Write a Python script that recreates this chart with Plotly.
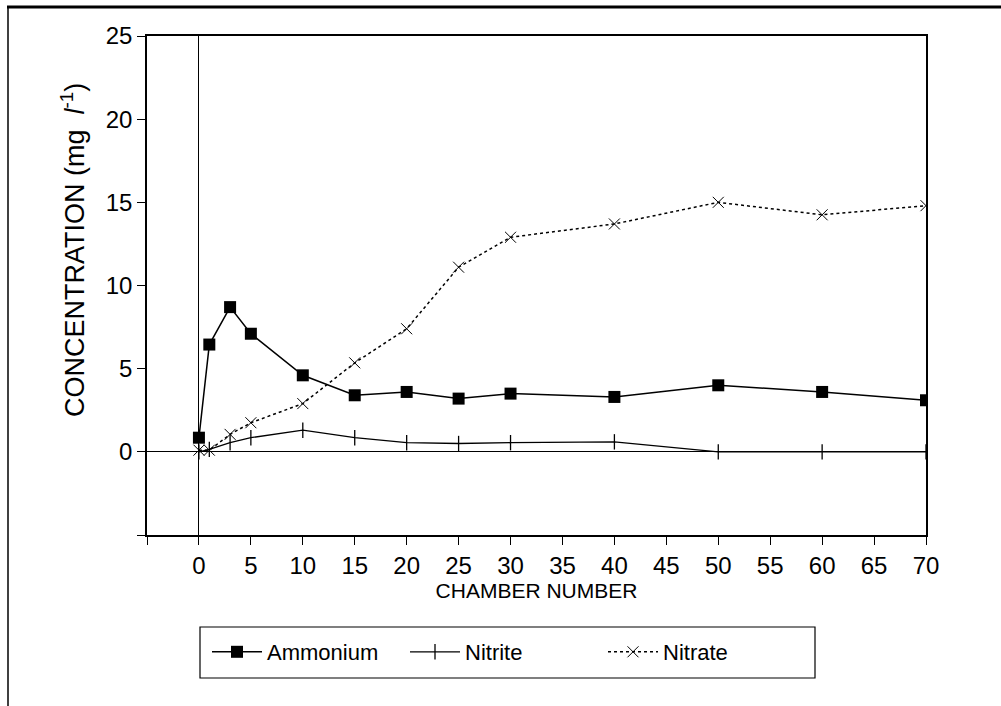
import plotly.graph_objects as go

# Sampling positions along the chamber series
chamber = [0, 1, 3, 5, 10, 15, 20, 25, 30, 40, 50, 60, 70]

# Measured concentrations (mg l-1)
ammonium = [0.85, 6.45, 8.7, 7.1, 4.6, 3.4, 3.6, 3.2, 3.5, 3.3, 4.0, 3.6, 3.1]
nitrite = [0.0, 0.15, 0.55, 0.85, 1.3, 0.85, 0.55, 0.5, 0.55, 0.6, 0.0, 0.0, 0.0]
nitrate = [0.1, 0.1, 1.05, 1.75, 2.9, 5.35, 7.4, 11.1, 12.9, 13.7, 15.0, 14.25, 14.8]

x_ticks = list(range(0, 75, 5))
y_ticks = list(range(0, 30, 5))
# unlabelled ticks at the lower ends of both axes
x_extra_ticks = [-5]
y_extra_ticks = [-5]

FONT = "Liberation Sans, Arial, Helvetica, sans-serif"

fig = go.Figure()

fig.add_trace(go.Scatter(
    x=chamber, y=ammonium, name="Ammonium", mode="lines+markers",
    line=dict(color="black", width=1.5),
    marker=dict(symbol="square", size=12, color="black"),
))
fig.add_trace(go.Scatter(
    x=chamber, y=nitrite, name="Nitrite", mode="lines+markers",
    line=dict(color="black", width=1.3),
    marker=dict(symbol="line-ns-open", size=11, color="black",
                line=dict(color="black", width=1.3)),
))
fig.add_trace(go.Scatter(
    x=chamber, y=nitrate, name="Nitrate", mode="lines+markers",
    line=dict(color="black", width=1.5, dash="dot"),
    marker=dict(symbol="x-thin-open", size=11, color="black",
                line=dict(color="black", width=1)),
))

# paper-coordinate helpers for the decorative frame, legend box and titles
L, R, T, B = 147, 926, 36, 535
W, H = 1001, 706


def px(xp):
    return (xp - L) / (R - L)


def py(yp):
    return (B - yp) / (B - T)


fig.update_layout(
    width=W, height=H,
    margin=dict(l=L, r=W - R, t=T, b=H - B, pad=0),
    paper_bgcolor="white", plot_bgcolor="white",
    font=dict(family=FONT, color="black"),
    showlegend=True,
    legend=dict(
        orientation="h", x=px(207), xanchor="left", y=py(652), yanchor="middle",
        font=dict(size=22, family=FONT, color="black"),
        entrywidth=133, itemwidth=50, bgcolor="rgba(0,0,0,0)", borderwidth=0,
    ),
    shapes=[
        # outer figure frame (top and left rules)
        dict(type="line", xref="paper", yref="paper", x0=px(7), x1=px(1001),
             y0=py(7), y1=py(7), line=dict(color="black", width=3)),
        dict(type="line", xref="paper", yref="paper", x0=px(8), x1=px(8),
             y0=py(7), y1=py(706), line=dict(color="black", width=1.5)),
        # legend frame
        dict(type="rect", xref="paper", yref="paper", x0=px(200), x1=px(815),
             y0=py(678), y1=py(627), line=dict(color="black", width=1.2)),
    ],
    annotations=[
        # vertical axis title, set slightly above the axis midpoint
        dict(text="CONCENTRATION (mg  <i>l</i><sup>-1</sup>)", textangle=-90,
             xref="paper", yref="paper", x=px(73), y=py(250),
             xanchor="center", yanchor="middle", showarrow=False,
             font=dict(size=27, family=FONT, color="black")),
    ],
)

fig.update_xaxes(
    range=[-5, 70], tickvals=x_ticks,
    ticks="outside", ticklen=8, tickwidth=1.2, tickcolor="black",
    minor=dict(tickvals=x_extra_ticks, ticks="outside", ticklen=8,
               tickwidth=1.2, tickcolor="black", showgrid=False),
    showline=True, linecolor="black", linewidth=1.5, mirror=True,
    showgrid=False, zeroline=True, zerolinecolor="black", zerolinewidth=1.2,
    tickfont=dict(size=24, family=FONT, color="black"),
    title=dict(text="CHAMBER NUMBER", font=dict(size=21, family=FONT, color="black"),
               standoff=4),
)
fig.update_yaxes(
    range=[-5, 25], tickvals=y_ticks,
    ticks="outside", ticklen=8, tickwidth=1.2, tickcolor="black",
    minor=dict(tickvals=y_extra_ticks, ticks="outside", ticklen=8,
               tickwidth=1.2, tickcolor="black", showgrid=False),
    showline=True, linecolor="black", linewidth=1.5, mirror=True,
    showgrid=False, zeroline=True, zerolinecolor="black", zerolinewidth=1.2,
    tickfont=dict(size=24, family=FONT, color="black"),
)

fig.write_html("out.html")
